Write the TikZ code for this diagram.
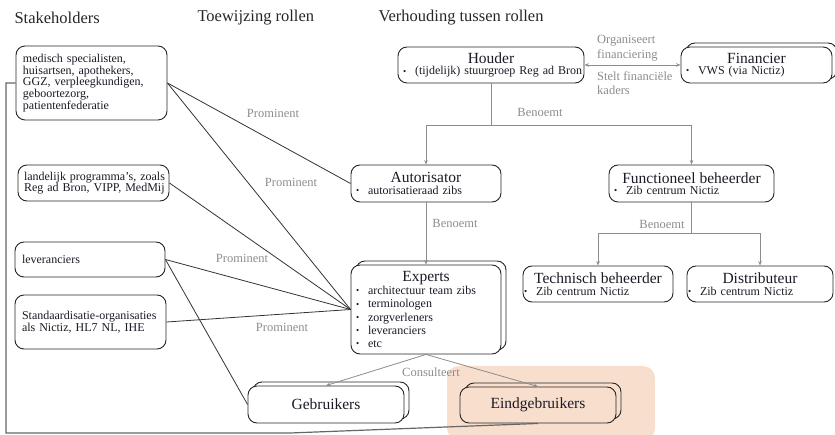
\documentclass[tikz,border=0pt]{standalone}
\usepackage{fontspec}
\setmainfont{Liberation Serif}
\usetikzlibrary{arrows.meta,shadows}
\definecolor{peach}{HTML}{F8DECD}
\definecolor{lblgray}{HTML}{8C8C8C}
\definecolor{inkc}{HTML}{1A1A26}
\newcommand\bul{\makebox[12pt][l]{\raisebox{0.8pt}{\scalebox{0.75}{\textbullet}}}}
\newcommand\ttl{\fontsize{15.5}{17}\selectfont}
\newcommand\oneln[1]{\mbox{#1}}
\begin{document}
\begin{tikzpicture}[x=1pt,y=-1pt,
  box/.style={draw=black!85, line width=0.9pt, rounded corners=9pt, fill=white, inner xsep=8pt, inner ysep=0pt,
     text=inkc, font=\fontsize{12}{11.6}\selectfont, align=left},
  stack/.style={copy shadow={shadow xshift=5pt, shadow yshift=4pt, draw=black!85, line width=0.9pt, fill=white}},
  hdr/.style={anchor=west, font=\fontsize{16.5}{18}\selectfont, text=black!85},
  lbl/.style={text=lblgray, font=\fontsize{12.5}{14.5}\selectfont, inner sep=1pt},
  sline/.style={draw=black!80, line width=0.8pt},
  rel/.style={draw=gray!90, line width=0.8pt},
  arr/.style={-{Stealth[length=4.5pt,width=3.5pt]}},
]
\useasboundingbox (0,0) rectangle (835,435);

% highlight
\fill[peach, rounded corners=12pt] (447,366) rectangle (655,440);

% headers
\node[hdr] (h1) at (11,18) {Stakeholders};
\node[hdr] (h2) at (194,18) {Toewijzing rollen};
\node[hdr] (h3) at (375,18) {Verhouding tussen rollen};

% stakeholder boxes
\node[box, minimum width=151pt, minimum height=74pt, text width=137pt, inner xsep=7pt] (med) at (91.5,83)
  {\oneln{medisch specialisten,}\\\oneln{huisartsen, apothekers,}\\\oneln{GGZ, verpleegkundigen,}\\\oneln{geboortezorg,}\\\oneln{patientenfederatie}};
\node[box, minimum width=151pt, minimum height=36pt, text width=139pt, inner xsep=6pt] (land) at (93.5,183)
  {\oneln{landelijk programma’s, zoals}\\\oneln{Reg ad Bron, VIPP, MedMij}};
\node[box, minimum width=150pt, minimum height=35pt, text width=136pt, inner xsep=7pt] (lev) at (90,259.5)
  {\oneln{leveranciers}};
\node[box, minimum width=151pt, minimum height=54pt, text width=137pt, inner xsep=7pt] (std) at (90.5,322)
  {\oneln{Standaardisatie-organisaties}\\\oneln{als Nictiz, HL7 NL, IHE}};

% role boxes
\node[box, minimum width=186pt, minimum height=36pt, text width=176pt, inner xsep=5pt] (houder) at (491,65)
  {{\centering\ttl Houder\par}\oneln{\bul(tijdelijk) stuurgroep Reg ad Bron}};
\node[box, stack, minimum width=151pt, minimum height=36pt, text width=141pt, inner xsep=5pt] (fin) at (756.5,65)
  {{\centering\ttl Financier\par}\bul VWS (via Nictiz)};
\node[box, minimum width=150pt, minimum height=37pt, text width=140pt, inner xsep=5pt] (aut) at (426,183.5)
  {{\centering\ttl Autorisator\par}\bul autorisatieraad zibs};
\node[box, minimum width=165pt, minimum height=37pt, text width=155pt, inner xsep=5pt] (func) at (691.5,183.5)
  {{\centering\ttl Functioneel beheerder\par}\bul Zib centrum Nictiz};
\node[box, minimum width=150pt, minimum height=36pt, text width=148pt, inner xsep=1pt] (tech) at (598,284)
  {{\centering\ttl Technisch beheerder\par}\bul Zib centrum Nictiz};
\node[box, minimum width=146pt, minimum height=36pt, text width=144pt, inner xsep=1pt] (dist) at (760,284)
  {{\centering\ttl Distributeur\par}\bul Zib centrum Nictiz};
\node[box, stack, minimum width=150pt, minimum height=89pt, text width=140pt, inner xsep=5pt,
      font=\fontsize{12}{13.2}\selectfont] (exp) at (426,309.5)
  {{\centering\ttl Experts\par}\bul architectuur team zibs\\\bul terminologen\\\bul zorgverleners\\\bul leveranciers\\\bul etc};
\node[box, stack, minimum width=152pt, minimum height=37pt, text width=140pt, align=center] (geb) at (326,404.5)
  {\ttl Gebruikers};
\node[box, fill=peach, copy shadow={shadow xshift=5pt, shadow yshift=4pt, draw=black!85, line width=0.9pt, fill=peach},
      minimum width=150pt, minimum height=36pt, text width=140pt, align=center] (eind) at (538,405)
  {\ttl Eindgebruikers};

% stakeholder lines
\draw[sline] (med.east) -- (aut.west);
\draw[sline] (med.east) -- (exp.west);
\draw[sline] (land.east) -- (exp.west);
\draw[sline] (lev.east) -- (exp.west);
\draw[sline] (lev.east) -- (geb.west);
\draw[sline] (std.east) -- (exp.west);
\coordinate (b1) at (6,83);
\coordinate (b2) at (6,433);
\coordinate (b3) at (290,433);
\draw[draw=gray!80!black, line width=1.2pt] (med.west) -- (b1) -- (b2) -- (b3) -- (eind.south);

\node[lbl] (p1) at (273,113) {Prominent};
\node[lbl] (p2) at (291,182) {Prominent};
\node[lbl] (p3) at (242,258) {Prominent};
\node[lbl] (p4) at (282,327) {Prominent};

% relations
\draw[rel, {Stealth[length=4.5pt,width=3.5pt]}-{Stealth[length=4.5pt,width=3.5pt]}] (houder.east) -- (fin.west);
\node[lbl, anchor=west, align=left] (l1) at (596,48) {Organiseert\\financiering};
\node[lbl, anchor=west, align=left] (l2) at (596,83) {Stelt financiële\\kaders};

\coordinate (hb) at (491,125);
\draw[rel] (houder.south) -- (hb);
\draw[rel, arr] (hb) -| (aut.north);
\draw[rel, arr] (hb) -| (func.north);
\node[lbl] (l3) at (540,112) {Benoemt};

\draw[rel, arr] (aut.south) -- (exp.north);
\node[lbl] (l4) at (455,223) {Benoemt};

\coordinate (fb) at (691.5,233);
\draw[rel] (func.south) -- (fb);
\draw[rel, arr] (fb) -| (tech.north);
\draw[rel, arr] (fb) -| (dist.north);
\node[lbl] (l5) at (662,224) {Benoemt};

\draw[rel, arr] (exp.south) -- (geb.north);
\draw[rel, arr] (exp.south) -- (eind.north);
\node[lbl] (l6) at (431,372) {Consulteert};
\end{tikzpicture}
\end{document}
